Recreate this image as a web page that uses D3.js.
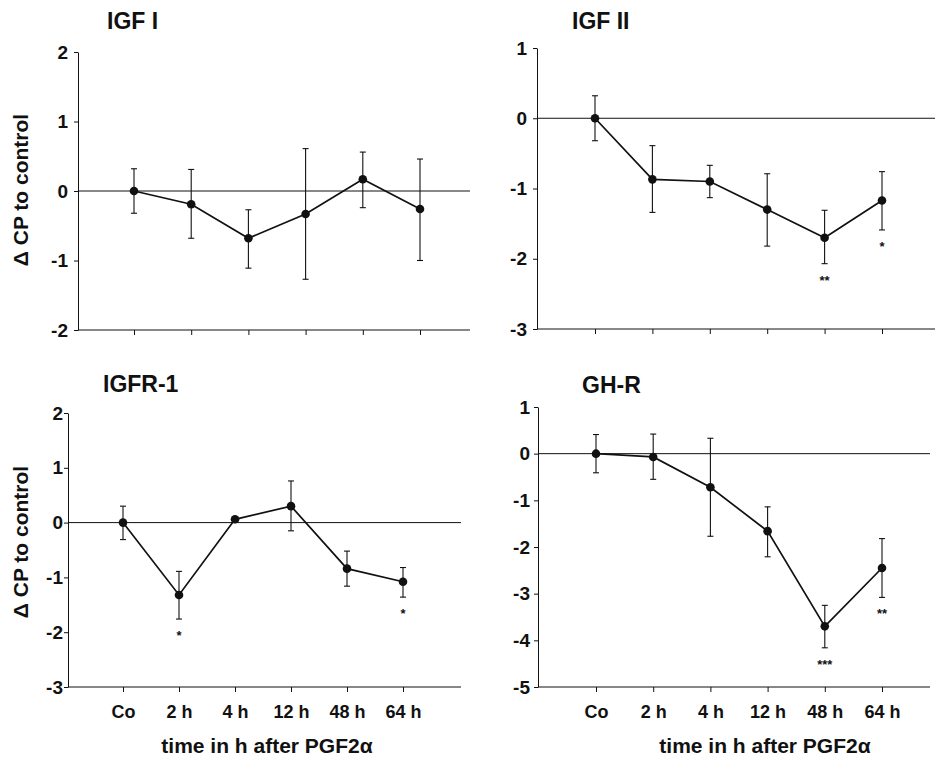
<!DOCTYPE html>
<html>
<head>
<meta charset="utf-8">
<script src="https://cdn.jsdelivr.net/npm/d3@7"></script>
<style>
  body { margin: 0; background: #fff; }
  svg { display: block; }
  text { font-family: "Liberation Sans", Arial, sans-serif; font-weight: bold; fill: #111; }
</style>
</head>
<body>
<svg id="chart" width="935" height="757"></svg>
<script>
// ---------------- data ----------------
const categories = ["Co", "2 h", "4 h", "12 h", "48 h", "64 h"];

const igf1Mean  = [0, -0.19, -0.68, -0.33, 0.17, -0.26];
const igf1Upper = [0.32, 0.31, -0.27, 0.61, 0.56, 0.46];
const igf1Lower = [-0.32, -0.68, -1.11, -1.27, -0.24, -1.0];
const igf1Stars = ["", "", "", "", "", ""];

const igf2Mean  = [0, -0.87, -0.90, -1.30, -1.70, -1.17];
const igf2Upper = [0.32, -0.39, -0.67, -0.79, -1.31, -0.76];
const igf2Lower = [-0.32, -1.34, -1.13, -1.82, -2.07, -1.59];
const igf2Stars = ["", "", "", "", "**", "*"];

const igfr1Mean  = [0, -1.32, 0.06, 0.30, -0.84, -1.08];
const igfr1Upper = [0.30, -0.89, 0.06, 0.76, -0.52, -0.82];
const igfr1Lower = [-0.31, -1.76, 0.06, -0.15, -1.16, -1.36];
const igfr1Stars = ["", "*", "", "", "", "*"];

const ghrMean  = [0, -0.07, -0.72, -1.66, -3.70, -2.45];
const ghrUpper = [0.41, 0.42, 0.33, -1.14, -3.25, -1.82];
const ghrLower = [-0.41, -0.55, -1.77, -2.21, -4.16, -3.08];
const ghrStars = ["", "", "", "", "***", "**"];

const yTicks1 = [-2, -1, 0, 1, 2];
const yTicks2 = [-3, -2, -1, 0, 1];
const yTicks3 = [-3, -2, -1, 0, 1, 2];
const yTicks4 = [-5, -4, -3, -2, -1, 0, 1];

const yLabel = "\u0394 CP to control";
const xLabel = "time in h after PGF2\u03b1";

// ---------------- layout ----------------
const panels = [
  { title: "IGF I", tx: 107, ty: 29, left: 78, right: 470, top: 52, bottom: 330, dom: [-2, 2], ticks: yTicks1,
    coX: 134, lastX: 420, pad: 6, mean: igf1Mean, up: igf1Upper, lo: igf1Lower, stars: igf1Stars, xlab: false, ylab: true, ylabY: 190 },
  { title: "IGF II", tx: 572, ty: 29, left: 537, right: 935, top: 48, bottom: 329, dom: [-3, 1], ticks: yTicks2,
    coX: 595, lastX: 882, pad: 6, mean: igf2Mean, up: igf2Upper, lo: igf2Lower, stars: igf2Stars, xlab: false, ylab: false },
  { title: "IGFR-1", tx: 103, ty: 392, left: 68, right: 461, top: 413, bottom: 687, dom: [-3, 2], ticks: yTicks3,
    coX: 123, lastX: 403, pad: 1, mean: igfr1Mean, up: igfr1Upper, lo: igfr1Lower, stars: igfr1Stars, xlab: true, ylab: true, ylabY: 542, xlabX: 267 },
  { title: "GH-R", tx: 582, ty: 393, left: 538, right: 930, top: 407, bottom: 687, dom: [-5, 1], ticks: yTicks4,
    coX: 596, lastX: 882, pad: 4, mean: ghrMean, up: ghrUpper, lo: ghrLower, stars: ghrStars, xlab: true, ylab: false, xlabX: 765 }
];

const svg = d3.select("#chart");
const ink = "#111";

panels.forEach(p => {
  const g = svg.append("g");
  const x = d3.scaleLinear().domain([0, categories.length - 1]).range([p.coX, p.lastX]);
  const y = d3.scaleLinear().domain(p.dom).range([p.bottom, p.top]);

  // title
  g.append("text").attr("x", p.tx).attr("y", p.ty)
    .attr("font-size", 23).text(p.title);

  // y axis
  const ya = g.append("g").attr("transform", "translate(" + p.left + ",0)")
    .call(d3.axisLeft(y).tickValues(p.ticks).tickSize(4).tickSizeOuter(0).tickPadding(p.pad).tickFormat(d => String(d)));
  ya.select(".domain").attr("stroke", ink);
  ya.selectAll(".tick line").attr("stroke", ink);
  ya.selectAll(".tick text").attr("font-size", 19).attr("font-family", "Liberation Sans, Arial").attr("font-weight", "bold").attr("fill", ink);

  // x axis
  const xa = g.append("g").attr("transform", "translate(0," + p.bottom + ")")
    .call(d3.axisBottom(x).tickValues(d3.range(categories.length)).tickSize(5).tickSizeOuter(0).tickPadding(13)
      .tickFormat(i => p.xlab ? categories[i] : ""));
  xa.select(".domain").remove();
  xa.append("line").attr("x1", p.left).attr("x2", p.right).attr("stroke", ink);
  xa.selectAll(".tick line").attr("stroke", ink);
  xa.selectAll(".tick text").attr("font-size", 18).attr("font-family", "Liberation Sans, Arial").attr("font-weight", "bold").attr("fill", ink);

  // zero line
  g.append("line").attr("x1", p.left).attr("x2", p.right)
    .attr("y1", y(0)).attr("y2", y(0)).attr("stroke", ink).attr("stroke-width", 1);

  // error bars
  const idx = d3.range(categories.length);
  const eb = g.append("g").attr("stroke", ink).attr("stroke-width", 1.1);
  idx.forEach(i => {
    if (p.up[i] === p.lo[i]) return;
    eb.append("line").attr("x1", x(i)).attr("x2", x(i)).attr("y1", y(p.up[i])).attr("y2", y(p.lo[i]));
    eb.append("line").attr("x1", x(i) - 3).attr("x2", x(i) + 3).attr("y1", y(p.up[i])).attr("y2", y(p.up[i]));
    eb.append("line").attr("x1", x(i) - 3).attr("x2", x(i) + 3).attr("y1", y(p.lo[i])).attr("y2", y(p.lo[i]));
  });

  // series line
  g.append("path").datum(idx)
    .attr("fill", "none").attr("stroke", ink).attr("stroke-width", 1.7)
    .attr("d", d3.line().x(i => x(i)).y(i => y(p.mean[i])));

  g.selectAll("circle.pt").data(idx).join("circle")
    .attr("cx", i => x(i)).attr("cy", i => y(p.mean[i])).attr("r", 4.3).attr("fill", ink);

  // significance stars
  g.selectAll("text.star").data(idx.filter(i => p.stars[i])).join("text")
    .attr("x", i => x(i)).attr("y", i => y(p.lo[i]) + 21)
    .attr("text-anchor", "middle").attr("font-size", 13).text(i => p.stars[i]);

  // axis titles
  if (p.ylab) {
    g.append("text").attr("transform", "translate(28," + p.ylabY + ") rotate(-90)")
      .attr("text-anchor", "middle").attr("font-size", 21).text(yLabel);
  }
  if (p.xlab) {
    g.append("text").attr("x", p.xlabX).attr("y", 753)
      .attr("text-anchor", "middle").attr("font-size", 21).text(xLabel);
  }
});
</script>
</body>
</html>
